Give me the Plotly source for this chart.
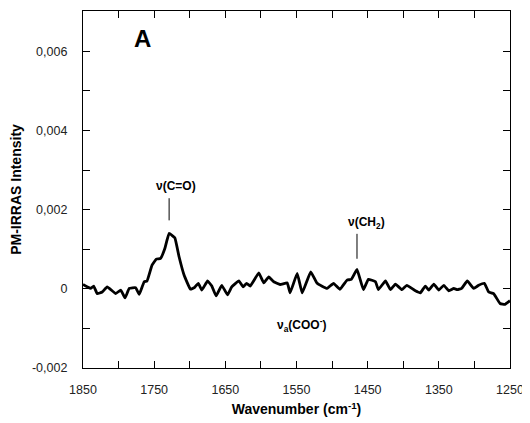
import plotly.graph_objects as go

wavenumber = [1850, 1844, 1839, 1835, 1830, 1823, 1816, 1804, 1797, 1791, 1785, 1776, 1771,
              1764, 1760, 1753, 1747, 1741, 1735, 1729, 1721, 1715, 1708, 1699, 1693, 1688,
              1683, 1675, 1669, 1663, 1655, 1647, 1641, 1631, 1625, 1620, 1615, 1603, 1596,
              1589, 1582, 1573, 1563, 1559, 1549, 1542, 1530, 1521, 1507, 1498, 1489, 1479,
              1473, 1465, 1456, 1449, 1439, 1435, 1425, 1418, 1411, 1402, 1395, 1383, 1376,
              1369, 1364, 1357, 1350, 1343, 1336, 1329, 1324, 1318, 1310, 1301, 1294, 1286,
              1280, 1273, 1264, 1257, 1250]
intensity = [0.00011, 0.00005, 0.00001, 0.00007, -0.00012, -0.00008, 0.00005, -0.00012,
             -0.00003, -0.00023, 0.00001, 0.00003, -0.00014, 0.00018, 0.00020, 0.00060,
             0.00075, 0.00077, 0.00102, 0.00140, 0.00129, 0.00081, 0.00035, -0.00001,
             0.00004, 0.00014, -0.00003, 0.00020, 0.00007, -0.00018, 0.00009, -0.00015,
             0.00005, 0.00020, 0.00005, 0.00014, 0.00007, 0.00040, 0.00015, 0.00030,
             0.00018, 0.00011, 0.00015, -0.00010, 0.00039, -0.00010, 0.00043, 0.00014,
             0.00001, 0.00014, -0.00001, 0.00022, 0.00024, 0.00049, -0.00002, 0.00024,
             0.00018, -0.00002, 0.00020, -0.00002, 0.00012, -0.00002, 0.00009, -0.00005,
             -0.00010, 0.00007, -0.00003, 0.00012, -0.00003, 0.00009, -0.00005, 0.00001,
             -0.00002, 0.00001, 0.00020, 0.00001, 0.00009, 0.00014, -0.00008, -0.00012,
             -0.00037, -0.00039, -0.00030]

x_ticks = [1850, 1750, 1650, 1550, 1450, 1350, 1250]
y_tickvals = [-0.002, 0, 0.002, 0.004, 0.006]
y_ticktext = ["-0,002", "0", "0,002", "0,004", "0,006"]

peak_co = (1729, 0.00140)
peak_ch2 = (1465, 0.00049)

font = "Liberation Sans, Arial, sans-serif"

fig = go.Figure()
fig.add_trace(go.Scatter(x=wavenumber, y=intensity, mode="lines",
                         line=dict(color="black", width=2.8, shape="spline", smoothing=0.3),
                         hoverinfo="skip"))

axis_common = dict(showline=True, linecolor="black", linewidth=1.3, mirror="ticks",
                   ticks="inside", ticklen=7, tickwidth=1, tickcolor="black",
                   showgrid=False, zeroline=False, automargin=False,
                   tickfont=dict(family=font, size=12.5, color="#222"))

fig.update_xaxes(range=[1850, 1250], tickvals=x_ticks,
                 minor=dict(ticks="inside", dtick=50, ticklen=7, tickcolor="black", showgrid=False),
                 title=dict(text="<b>Wavenumber (cm<sup>-1</sup>)</b>", standoff=8,
                            font=dict(family=font, size=14, color="black")),
                 ticklabelstandoff=10, **axis_common)
fig.update_yaxes(range=[-0.002, 0.00702], tickvals=y_tickvals, ticktext=y_ticktext,
                 minor=dict(ticks="inside", dtick=0.001, ticklen=7, tickcolor="black", showgrid=False),
                 title=dict(text="<b>PM-IRRAS Intensity</b>", standoff=10,
                            font=dict(family=font, size=14, color="black")),
                 ticklabelstandoff=12, **axis_common)

fig.add_shape(type="line", x0=peak_co[0], x1=peak_co[0], y0=peak_co[1] + 0.00033,
              y1=peak_co[1] + 0.00089, line=dict(color="black", width=1))
fig.add_shape(type="line", x0=peak_ch2[0], x1=peak_ch2[0], y0=peak_ch2[1] + 0.00027,
              y1=peak_ch2[1] + 0.0009, line=dict(color="black", width=1))

fig.add_annotation(x=1767, y=0.00632, text="<b>A</b>", showarrow=False,
                   xanchor="center", yanchor="middle",
                   font=dict(family=font, size=24, color="black"))
fig.add_annotation(x=1719, y=peak_co[1] + 0.00089, text="<b>ν(C=O)</b>",
                   showarrow=False, yanchor="bottom", yshift=3,
                   font=dict(family=font, size=12, color="black"))
fig.add_annotation(x=1452, y=peak_ch2[1] + 0.0009, text="<b>ν(CH<sub>2</sub>)</b>",
                   showarrow=False, yanchor="bottom", yshift=1,
                   font=dict(family=font, size=12, color="black"))
fig.add_annotation(x=1542, y=-0.00092, text="<b>ν<sub>a</sub>(COO<sup>-</sup>)</b>",
                   showarrow=False, yanchor="middle",
                   font=dict(family=font, size=12, color="black"))

fig.update_layout(width=522, height=415, margin=dict(l=75, r=20, t=3, b=55),
                  plot_bgcolor="white", paper_bgcolor="white", showlegend=False)

fig.write_html("out.html")
